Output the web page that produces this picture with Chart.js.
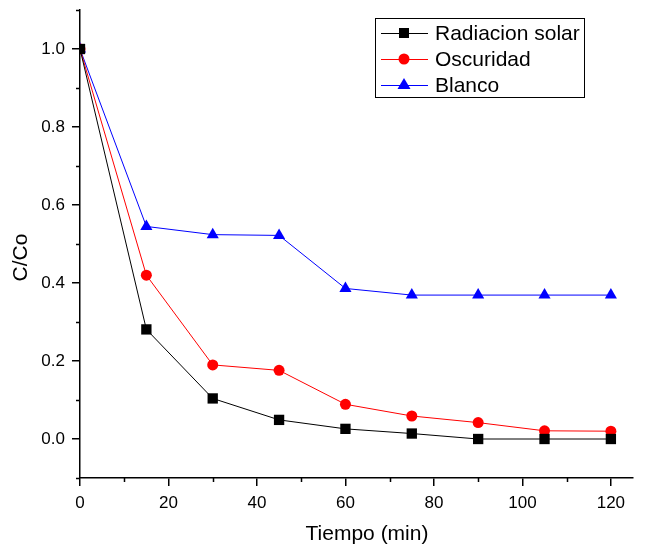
<!DOCTYPE html>
<html>
<head>
<meta charset="utf-8">
<script src="https://cdn.jsdelivr.net/npm/chart.js@4/dist/chart.umd.min.js"></script>
<style>
html,body{margin:0;padding:0;background:#fff;}
#wrap{width:648px;height:544px;position:relative;}
</style>
</head>
<body>
<div id="wrap"><canvas id="c" width="648" height="544"></canvas></div>
<script>
const tiempo = [0, 15, 30, 45, 60, 75, 90, 105, 120];
const radiacionSolar = [1.0, 0.281, 0.104, 0.049, 0.026, 0.014, 0.0, 0.0, 0.0];
const oscuridad = [1.0, 0.420, 0.190, 0.176, 0.089, 0.059, 0.042, 0.021, 0.020];
const blanco = [1.0, 0.545, 0.524, 0.522, 0.386, 0.369, 0.369, 0.369, 0.369];
const seriesNames = ["Radiacion solar", "Oscuridad", "Blanco"];
const xTicks = [0, 20, 40, 60, 80, 100, 120];
const yTicks = [0.0, 0.2, 0.4, 0.6, 0.8, 1.0];
const xMinor = [10, 30, 50, 70, 90, 110];
const yMinor = [-0.1, 0.1, 0.3, 0.5, 0.7, 0.9, 1.1];
const xTitle = "Tiempo (min)";
const yTitle = "C/Co";

const FONT = "'Liberation Sans', Arial, sans-serif";
const pts = arr => tiempo.map((t, i) => ({x: t, y: arr[i]}));

const minorTicks = {
  id: 'minorTicks',
  afterDraw(chart) {
    const ctx = chart.ctx, xs = chart.scales.x, ys = chart.scales.y, a = chart.chartArea;
    ctx.save();
    ctx.strokeStyle = '#000';
    ctx.lineWidth = 1.5;
    ctx.beginPath();
    xMinor.forEach(v => { const p = Math.round(xs.getPixelForValue(v)) + 0.5; ctx.moveTo(p, a.bottom); ctx.lineTo(p, a.bottom + 4); });
    yMinor.forEach(v => { const p = Math.round(ys.getPixelForValue(v)) + 0.5; ctx.moveTo(a.left, p); ctx.lineTo(a.left - 4, p); });
    ctx.stroke();
    // axis titles
    ctx.fillStyle = '#000';
    ctx.font = '21px ' + FONT;
    ctx.textAlign = 'center';
    ctx.textBaseline = 'alphabetic';
    ctx.fillText(xTitle, 367, 540);
    ctx.translate(27, 257.5);
    ctx.rotate(-Math.PI / 2);
    ctx.fillText(yTitle, 0, 0);
    ctx.restore();
    // legend
    ctx.save();
    ctx.strokeStyle = '#000';
    ctx.lineWidth = 1;
    ctx.strokeRect(375.5, 18.5, 209, 79);
    const rows = [33, 59, 85];
    chart.data.datasets.forEach((ds, i) => {
      const y = rows[i];
      ctx.strokeStyle = ds.borderColor;
      ctx.lineWidth = 1;
      ctx.beginPath(); ctx.moveTo(381, y + 0.5); ctx.lineTo(428, y + 0.5); ctx.stroke();
      ctx.fillStyle = ds.pointBackgroundColor;
      const cx = 404;
      if (ds.pointStyle === 'rect') { ctx.fillRect(cx - 5, y - 5, 10, 10); }
      else if (ds.pointStyle === 'circle') { ctx.beginPath(); ctx.arc(cx, y, 5.5, 0, Math.PI * 2); ctx.fill(); }
      else { ctx.beginPath(); ctx.moveTo(cx, y - 7); ctx.lineTo(cx + 6.5, y + 4); ctx.lineTo(cx - 6.5, y + 4); ctx.closePath(); ctx.fill(); }
      ctx.fillStyle = '#000';
      ctx.font = '21px ' + FONT;
      ctx.textAlign = 'left';
      ctx.textBaseline = 'alphabetic';
      ctx.fillText(ds.label, 435, y + 6.5);
    });
    ctx.restore();
  }
};

new Chart(document.getElementById('c'), {
  type: 'line',
  data: {
    datasets: [
      {label: seriesNames[0], data: pts(radiacionSolar), borderColor: '#000000', backgroundColor: '#000000', pointBackgroundColor: '#000000', pointBorderColor: '#000000', pointStyle: 'rect', pointRadius: 7.3, borderWidth: 1, pointBorderWidth: 0, tension: 0},
      {label: seriesNames[1], data: pts(oscuridad), borderColor: '#ff0000', backgroundColor: '#ff0000', pointBackgroundColor: '#ff0000', pointBorderColor: '#ff0000', pointStyle: 'circle', pointRadius: 5.5, borderWidth: 1, pointBorderWidth: 0, tension: 0},
      {label: seriesNames[2], data: pts(blanco), borderColor: '#0000ff', backgroundColor: '#0000ff', pointBackgroundColor: '#0000ff', pointBorderColor: '#0000ff', pointStyle: 'triangle', pointRadius: 7, borderWidth: 1, pointBorderWidth: 0, tension: 0}
    ]
  },
  options: {
    responsive: false,
    animation: false,
    events: [],
    layout: {padding: {top: 10, right: 15, left: 0, bottom: 0}},
    plugins: {legend: {display: false}, tooltip: {enabled: false}},
    scales: {
      x: {
        type: 'linear', min: 0, max: 125,
        afterBuildTicks: s => { s.ticks = xTicks.map(v => ({value: v})); },
        afterFit: s => { s.height = 66; s.paddingLeft = 0; s.paddingRight = 0; },
        border: {display: true, color: '#000', width: 1.5},
        grid: {display: true, drawOnChartArea: false, drawTicks: true, tickLength: 8, color: '#000', lineWidth: 1.5},
        ticks: {color: '#000', font: {family: FONT, size: 17}, padding: 7, maxRotation: 0, callback: v => String(v)}
      },
      y: {
        type: 'linear', min: -0.1, max: 1.1,
        afterBuildTicks: s => { s.ticks = yTicks.map(v => ({value: v})); },
        afterFit: s => { s.width = 80; s.paddingTop = 0; s.paddingBottom = 0; },
        border: {display: true, color: '#000', width: 1.5},
        grid: {display: true, drawOnChartArea: false, drawTicks: true, tickLength: 8, color: '#000', lineWidth: 1.5},
        ticks: {color: '#000', font: {family: FONT, size: 17}, padding: 7, callback: v => v.toFixed(1)}
      }
    }
  },
  plugins: [minorTicks]
});
</script>
</body>
</html>
